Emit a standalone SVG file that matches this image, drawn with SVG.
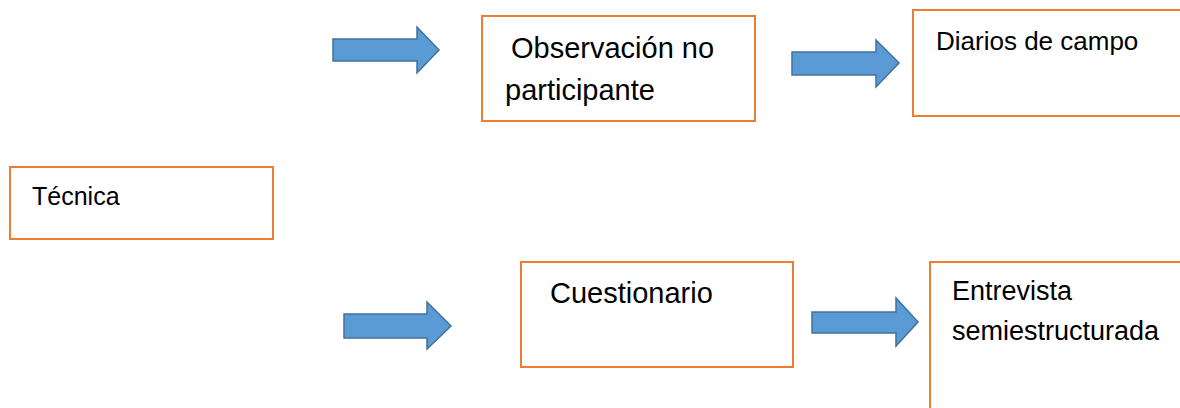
<svg xmlns="http://www.w3.org/2000/svg" width="1180" height="408" viewBox="0 0 1180 408">
<style>
.box{fill:#fff;stroke:#ED7D31;stroke-width:2}
.arr{fill:#5B9BD5;stroke:#41719C;stroke-width:1.5;stroke-linejoin:miter}
text{font-family:"Liberation Sans",Arial,sans-serif;fill:#000}
</style>
<rect width="1180" height="408" fill="#fff"/>
<g id="connectors">
<polygon class="arr" points="333,39 417,39 417,27 439,50 417,73 417,61 333,61"/>
<polygon class="arr" points="792,52 876,52 876,40 899,63 876,87 876,75 792,75"/>
<polygon class="arr" points="344,314 427,314 427,302 451,326 427,349 427,338 344,338"/>
<polygon class="arr" points="812,312 896,312 896,298 918,322 896,346 896,333 812,333"/>
</g>
<g id="node-tecnica">
<rect class="box" x="10" y="167" width="263" height="72"/>
<text x="32" y="205" font-size="25">Técnica</text>
</g>
<g id="node-observacion">
<rect class="box" x="482" y="16" width="273" height="105"/>
<text x="511" y="58" font-size="29">Observación no</text>
<text x="505" y="100" font-size="29">participante</text>
</g>
<g id="node-diarios">
<rect class="box" x="913" y="10" width="280" height="106"/>
<text x="936" y="50" font-size="26">Diarios de campo</text>
</g>
<g id="node-cuestionario">
<rect class="box" x="521" y="262" width="272" height="105"/>
<text x="550" y="303" font-size="29">Cuestionario</text>
</g>
<g id="node-entrevista">
<rect class="box" x="930" y="262" width="270" height="160"/>
<text x="952" y="300" font-size="27">Entrevista</text>
<text x="952" y="340" font-size="27">semiestructurada</text>
</g>
</svg>
